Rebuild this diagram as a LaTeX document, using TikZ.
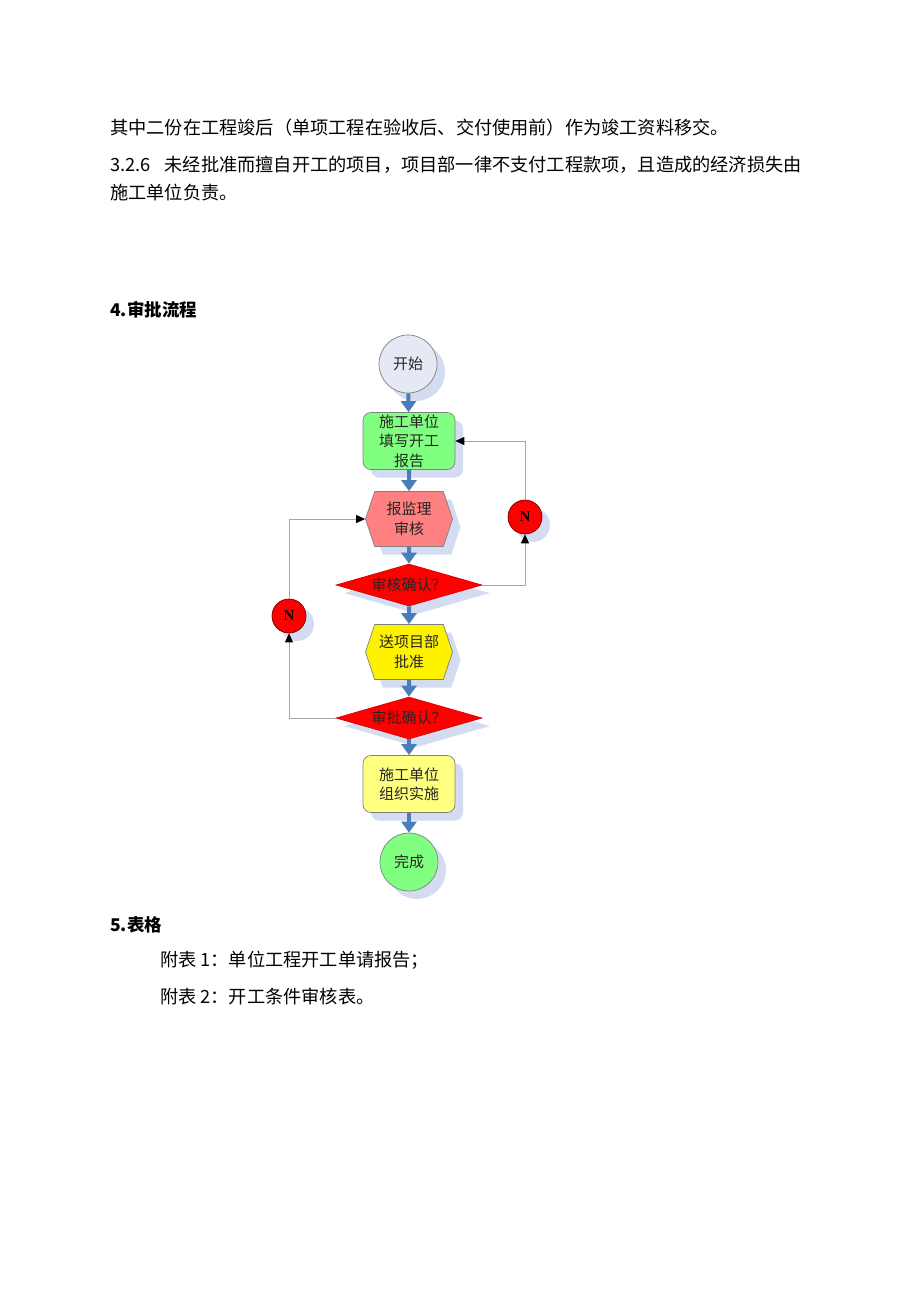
\documentclass[tikz,border=0pt]{standalone}
\usepackage{fontspec}
\setmainfont{Liberation Serif}
\newfontfamily\cjk{Noto Sans CJK SC}
\usetikzlibrary{arrows.meta,shapes.geometric,shapes.symbols,shadows}

\definecolor{flowblue}{HTML}{4A7EBB}
\definecolor{shadowblue}{HTML}{D3DCF0}
\definecolor{startgray}{HTML}{E4E9F4}
\definecolor{lightgreen}{HTML}{80FF80}
\definecolor{pinkred}{HTML}{FF8080}
\definecolor{paleyellow}{HTML}{FFFF80}
\definecolor{loopgray}{HTML}{A6A6A6}
\definecolor{bordergray}{HTML}{808080}

\begin{document}
\begin{tikzpicture}[x=1pt,y=-1pt,
  body/.style={anchor=west,inner sep=0pt,text=black,
    font=\cjk\fontsize{18.2}{22}\selectfont},
  heading/.style={anchor=west,inner sep=0pt,
    font=\cjk\bfseries\fontsize{17.5}{21}\selectfont},
  shade box/.style={drop shadow={shadow xshift=8pt,shadow yshift=-8pt,
      fill=shadowblue,opacity=1}},
  chart text/.style={align=center,inner sep=0pt,text=black!85,
    font=\cjk\fontsize{15}{19.5}\selectfont},
  start stop/.style={circle,chart text,minimum size=58,draw=bordergray,
    line width=0.7pt,shade box},
  work box/.style={rectangle,rounded corners=8pt,chart text,minimum width=92,
    minimum height=57,draw=bordergray,line width=0.7pt,shade box},
  hex box/.style={signal,signal to=west and east,signal pointer angle=143,
    chart text,minimum width=87,minimum height=55,draw=bordergray,
    line width=0.7pt,shade box},
  check/.style={diamond,aspect=3.4,chart text,minimum width=146,
    minimum height=42,fill=red,draw=red!85!black,line width=0.7pt,shade box},
  no flag/.style={circle,minimum size=34,inner sep=0pt,fill=red,
    draw=red!45!black,line width=0.7pt,shade box,
    font=\bfseries\fontsize{15}{15}\selectfont},
  flow/.style={draw=flowblue,line width=4pt,
    -{Triangle[width=15pt,length=11pt]}},
  back/.style={draw=loopgray,line width=0.9pt,
    -{Triangle[color=black,width=8pt,length=9pt]}}
  ]
  \useasboundingbox[fill=white] (0,0) rectangle (920,1302);

  % text above the chart
  \node[body] (para1) at (110,128)
    {其中二份在工程竣后（单项工程在验收后、交付使用前）作为竣工资料移交。};
  \node[body] (para2) at (110,165)
    {3.2.6\hspace{14pt}未经批准而擅自开工的项目，项目部一律不支付工程款项，且造成的经济损失由};
  \node[body] (para3) at (110,193) {施工单位负责。};
  \node[heading] (sec4) at (110,310) {4.审批流程};

  % flow chart
  \node[start stop,fill=startgray] (start) at (408,364) {开始};
  \node[work box,fill=lightgreen] (apply) at (409,441) {施工单位\\填写开工\\报告};
  \node[hex box,fill=pinkred] (super) at (409,519) {报监理\\审核};
  \node[check] (chk1) at (409,585) {审核确认？};
  \node[hex box,fill=yellow] (dept) at (409,652) {送项目部\\批准};
  \node[check] (chk2) at (409,718) {审批确认？};
  \node[work box,fill=paleyellow] (build) at (409,784) {施工单位\\组织实施};
  \node[start stop,fill=lightgreen] (done) at (409,862) {完成};

  \node[no flag] (n1) at (525,517) {N};
  \node[no flag] (n2) at (289,616) {N};

  \draw[flow] (start) -- (apply);
  \draw[flow] (apply) -- (super);
  \draw[flow] (super) -- (chk1);
  \draw[flow] (chk1) -- (dept);
  \draw[flow] (dept) -- (chk2);
  \draw[flow] (chk2) -- (build);
  \draw[flow] (build) -- (done);

  % the two loops back
  \draw[back] (chk1.east) -| (n1.south);
  \draw[back] (n1.north) |- (apply.east);
  \draw[back] (chk2.west) -| (n2.south);
  \draw[back] (n2.north) |- (super.west);

  % text below the chart
  \node[heading] (sec5) at (110,925) {5.表格};
  \node[body] (tab1) at (160,960) {附表 1：单位工程开工单请报告；};
  \node[body] (tab2) at (160,997) {附表 2：开工条件审核表。};
\end{tikzpicture}
\end{document}
